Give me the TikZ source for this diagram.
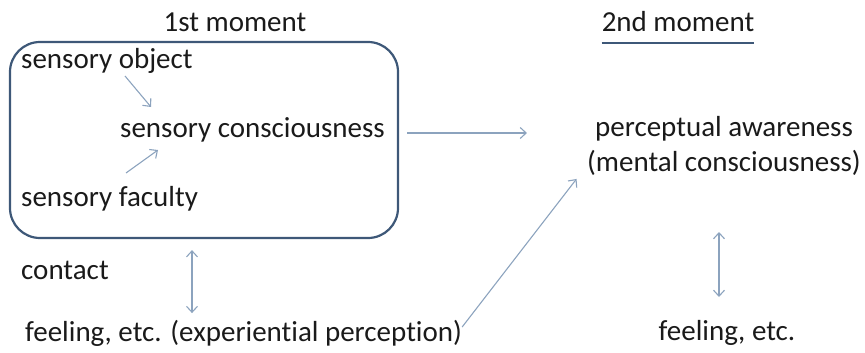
\documentclass[tikz,border=0pt]{standalone}
\usepackage{fontspec}
\setmainfont[Ligatures=NoCommon]{Carlito}
\usetikzlibrary{arrows.meta}
\definecolor{boxblue}{HTML}{3E5878}
\definecolor{arrowblue}{HTML}{8CA3BE}
\definecolor{inkgray}{HTML}{1A1A1A}
\begin{document}
\begin{tikzpicture}[x=1pt,y=-1pt,
   txt/.style = {inner sep=0pt, text=inkgray, font=\fontsize{29}{35}\selectfont},
   arr/.style = {draw=arrowblue, line width=1.1pt, -{Straight Barb[length=6pt,width=11pt]}},
   dbl/.style = {draw=arrowblue, line width=1.1pt, {Straight Barb[length=6pt,width=11pt]}-{Straight Barb[length=6pt,width=11pt]}}]
   \useasboundingbox (0,0) rectangle (865,353);
   % first moment
   \node[draw=boxblue, line width=2.2pt, rounded corners=30pt, minimum width=388pt, minimum height=196pt] (box) at (204,140) {};
   \node[txt] (m1) at (235,22) {1st moment};
   \draw[boxblue, line width=1.6pt] ([yshift=-11pt]m1.base west) -- ([yshift=-11pt]m1.base east);
   \node[txt, anchor=west] (obj) at (21,61) {sensory object};
   \node[txt, anchor=west] (sc) at (120,130) {sensory consciousness};
   \node[txt, anchor=west] (fac) at (21,199) {sensory faculty};
   \node[txt, anchor=west] (contact) at (21,270) {contact};
   \node[txt, anchor=west] (feel1) at (25,333) {feeling, etc. (experiential perception)};
   % second moment
   \node[txt] (m2) at (678,22) {2nd moment};
   \draw[boxblue, line width=1.6pt] ([yshift=-11pt]m2.base west) -- ([yshift=-11pt]m2.base east);
   \node[txt, align=center] (pa) at (724,146) {perceptual awareness\\(mental consciousness)};
   \node[txt] (feel2) at (727,333) {feeling, etc.};
   % arrows
   \coordinate (o1) at (125,76);
   \coordinate (o2) at (151,107);
   \coordinate (f1) at (126,173);
   \coordinate (f2) at (158,150);
   \draw[arr] (o1) -- (o2);
   \draw[arr] (f1) -- (f2);
   \draw[arr, shorten <=8pt, shorten >=60pt] (box.east |- 0,133) -- (pa.west |- 0,133);
   \draw[dbl] (box.south -| 192,0) ++(0,11) -- ++(0,63);
   \draw[dbl] ([xshift=-5pt]pa.south |- 0,232) -- ([xshift=-5pt]pa.south |- 0,297);
   \draw[arr, shorten >=4pt] ([yshift=6pt]feel1.east) -- ([xshift=-8pt]pa.south west);
\end{tikzpicture}
\end{document}
